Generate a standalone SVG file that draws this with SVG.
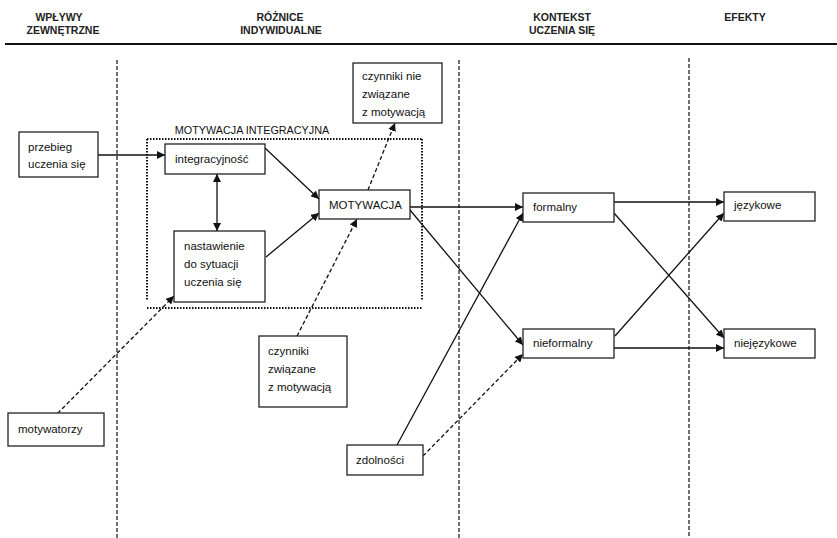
<svg xmlns="http://www.w3.org/2000/svg" width="837" height="538" viewBox="0 0 837 538">
<style>
.hd{font-family:"Liberation Sans",Arial,sans-serif;font-size:10.5px;font-weight:bold;fill:#222;text-anchor:middle}
.t{font-family:"Liberation Sans",Arial,sans-serif;font-size:11.5px;fill:#111}
.box{fill:#fff;stroke:#222;stroke-width:1.3}
.c{fill:none;stroke:#111;stroke-width:1.3}
.d{fill:none;stroke:#111;stroke-width:1.3;stroke-dasharray:4,2.5}
.sep{fill:none;stroke:#111;stroke-width:1.2;stroke-dasharray:4,2}
.dot{fill:none;stroke:#111;stroke-width:2;stroke-dasharray:1.5,1.5}
</style>
<defs>
<marker id="ah" viewBox="0 0 10 10" refX="10" refY="5" markerWidth="8" markerHeight="8" markerUnits="userSpaceOnUse" orient="auto-start-reverse"><path d="M0,0 L10,5 L0,10 z" fill="#111"/></marker>
</defs>
<rect width="837" height="538" fill="#fff"/>
<g id="headers">
<text class="hd" x="59" y="21">WPŁYWY</text>
<text class="hd" x="63" y="34">ZEWNĘTRZNE</text>
<text class="hd" x="280" y="21">RÓŻNICE</text>
<text class="hd" x="281" y="34">INDYWIDUALNE</text>
<text class="hd" x="562" y="21">KONTEKST</text>
<text class="hd" x="562" y="34">UCZENIA SIĘ</text>
<text class="hd" x="745" y="21">EFEKTY</text>
<line x1="5" y1="44" x2="837" y2="44" stroke="#111" stroke-width="1.8"/>
</g>
<g id="separators">
<line class="sep" x1="117" y1="60" x2="117" y2="538"/>
<line class="sep" x1="459" y1="60" x2="459" y2="538"/>
<line class="sep" x1="689" y1="58" x2="689" y2="538"/>
</g>
<g id="motywacja-integracyjna">
<text class="t" x="252" y="134" text-anchor="middle" style="font-size:10.8px">MOTYWACJA INTEGRACYJNA</text>
<line class="dot" x1="147" y1="139" x2="422" y2="139"/>
<line class="dot" x1="147" y1="139" x2="147" y2="300"/>
<line class="dot" x1="422" y1="139" x2="422" y2="300"/>
<line class="dot" x1="147" y1="308" x2="422" y2="308"/>
</g>
<g id="connectors">
<line class="c" x1="98" y1="155" x2="165" y2="155" marker-end="url(#ah)"/>
<line class="c" x1="217" y1="174" x2="217" y2="231" marker-start="url(#ah)" marker-end="url(#ah)"/>
<line class="c" x1="265" y1="148" x2="319" y2="199" marker-end="url(#ah)"/>
<line class="c" x1="266" y1="257" x2="319" y2="213" marker-end="url(#ah)"/>
<line class="d" x1="368" y1="190" x2="395" y2="123" marker-end="url(#ah)"/>
<line class="d" x1="297" y1="336" x2="357" y2="219" marker-end="url(#ah)"/>
<line class="d" x1="53" y1="418" x2="174" y2="296" marker-end="url(#ah)"/>
<line class="c" x1="410" y1="207" x2="523" y2="207" marker-end="url(#ah)"/>
<line class="c" x1="410" y1="210" x2="523" y2="345" marker-end="url(#ah)"/>
<line class="c" x1="397" y1="445" x2="523" y2="213" marker-end="url(#ah)"/>
<line class="d" x1="423" y1="456" x2="523" y2="354" marker-end="url(#ah)"/>
<line class="c" x1="614" y1="202" x2="724" y2="202" marker-end="url(#ah)"/>
<line class="c" x1="614" y1="213" x2="724" y2="338" marker-end="url(#ah)"/>
<line class="c" x1="615" y1="336" x2="724" y2="213" marker-end="url(#ah)"/>
<line class="c" x1="614" y1="348" x2="724" y2="348" marker-end="url(#ah)"/>
</g>
<g id="przebieg">
<rect class="box" x="19" y="132" width="79" height="45"/>
<text class="t" x="28" y="151">przebieg</text>
<text class="t" x="28" y="168">uczenia się</text>
</g>
<g id="integracyjnosc">
<rect class="box" x="165" y="144" width="100" height="30"/>
<text class="t" x="175" y="163">integracyjność</text>
</g>
<g id="nastawienie">
<rect class="box" x="174" y="231" width="91" height="71"/>
<text class="t" x="184" y="250">nastawienie</text>
<text class="t" x="184" y="268">do sytuacji</text>
<text class="t" x="184" y="286">uczenia się</text>
</g>
<g id="motywacja">
<rect class="box" x="319" y="190" width="91" height="29"/>
<text class="t" x="329" y="209">MOTYWACJA</text>
</g>
<g id="czynniki-nie">
<rect class="box" x="353" y="63" width="89" height="60"/>
<text class="t" x="362" y="80">czynniki nie</text>
<text class="t" x="362" y="98">związane</text>
<text class="t" x="362" y="116">z motywacją</text>
</g>
<g id="czynniki">
<rect class="box" x="259" y="336" width="88" height="71"/>
<text class="t" x="268" y="355">czynniki</text>
<text class="t" x="268" y="373">związane</text>
<text class="t" x="268" y="391">z motywacją</text>
</g>
<g id="motywatorzy">
<rect class="box" x="8" y="413" width="96" height="33"/>
<text class="t" x="18" y="433">motywatorzy</text>
</g>
<g id="zdolnosci">
<rect class="box" x="347" y="445" width="76" height="30"/>
<text class="t" x="356" y="464">zdolności</text>
</g>
<g id="formalny">
<rect class="box" x="523" y="193" width="91" height="29"/>
<text class="t" x="533" y="211">formalny</text>
</g>
<g id="nieformalny">
<rect class="box" x="523" y="329" width="91" height="29"/>
<text class="t" x="533" y="347">nieformalny</text>
</g>
<g id="jezykowe">
<rect class="box" x="724" y="192" width="91" height="29"/>
<text class="t" x="734" y="209">językowe</text>
</g>
<g id="niejezykowe">
<rect class="box" x="724" y="329" width="91" height="29"/>
<text class="t" x="734" y="347">niejęzykowe</text>
</g>
</svg>
